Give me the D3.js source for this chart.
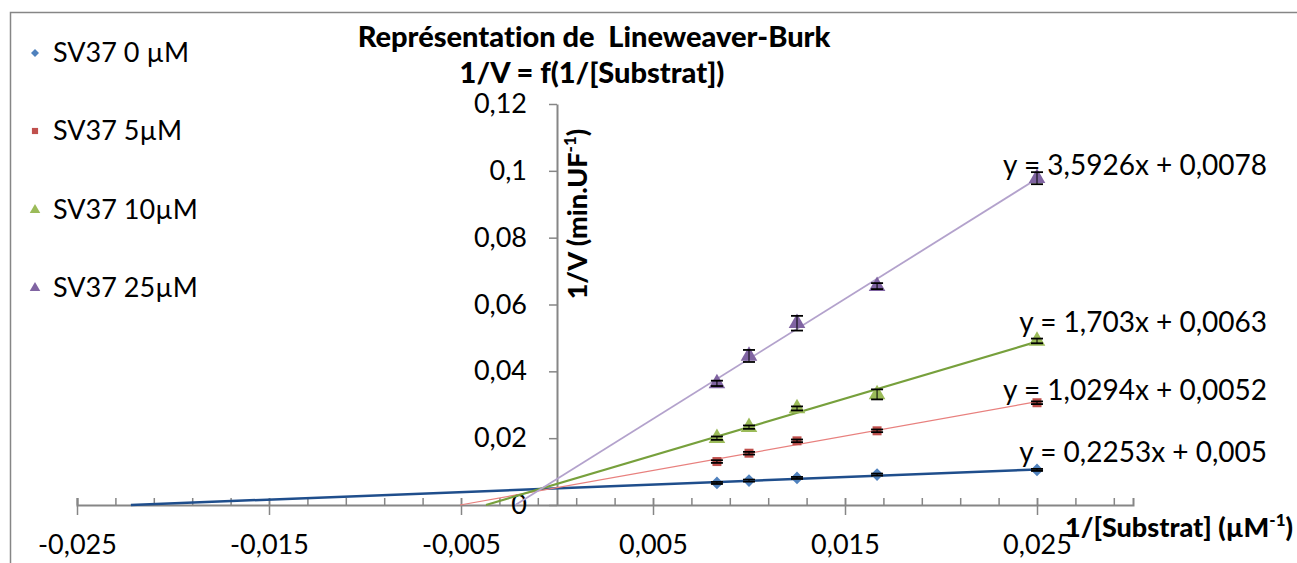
<!DOCTYPE html>
<html><head><meta charset="utf-8">
<script src="https://cdn.jsdelivr.net/npm/d3@7"></script>
<style>
body{margin:0;background:#fff;}
svg{display:block;font-family:Lato,"Open Sans",sans-serif;font-variant-ligatures:none;font-feature-settings:"liga" 0;}
</style></head>
<body><svg id="c" width="1297" height="563"></svg>
<script>
// ---- data ----
const seriesNames = ["SV37 0 µM", "SV37 5µM", "SV37 10µM", "SV37 25µM"];
const xValues = [0.00833, 0.01, 0.0125, 0.01667, 0.025];
const ySV0  = [0.0066, 0.0073, 0.0081, 0.0091, 0.0105];
const ySV5  = [0.0130, 0.0155, 0.0192, 0.0222, 0.0306];
const ySV10 = [0.0200, 0.0233, 0.0289, 0.0331, 0.0491];
const ySV25 = [0.0364, 0.0446, 0.0544, 0.0655, 0.0978];
const eSV0  = [0.0003, 0.0003, 0.0003, 0.0003, 0.0003];
const eSV5  = [0.0004, 0.0004, 0.0004, 0.0004, 0.0004];
const eSV10 = [0.0005, 0.0005, 0.0006, 0.0015, 0.0007];
const eSV25 = [0.0008, 0.0018, 0.0022, 0.0009, 0.0018];
const slopes = [0.2253, 1.0294, 1.703, 3.5926];
const intercepts = [0.005, 0.0052, 0.0063, 0.0078];
const equations = ["y = 0,2253x + 0,005", "y = 1,0294x + 0,0052", "y = 1,703x + 0,0063", "y = 3,5926x + 0,0078"];
const xMajorTicks = [-0.025, -0.015, -0.005, 0.005, 0.015, 0.025];
const yTicks = [0, 0.02, 0.04, 0.06, 0.08, 0.1, 0.12];
const titleLines = ["Représentation de  Lineweaver-Burk", "1/V = f(1/[Substrat])"];

// ---- styles ----
const markerColors = ["#4F81BD", "#C0504D", "#9BBB59", "#8064A2"];
const lineColors = ["#1F4E8C", "#E8807E", "#77A03C", "#B3A2CC"];
const lineWidths = [2.5, 1.2, 2.2, 1.8];
const shapes = ["diamond", "square", "triangle", "triangle"];
const eqPos = [[1267, 462], [1267, 400], [1267, 332], [1267, 175]];

const ys = [ySV0, ySV5, ySV10, ySV25];
const es = [eSV0, eSV5, eSV10, eSV25];

const loc = d3.formatLocale({decimal: ",", thousands: " ", grouping: [3], currency: ["", ""], minus: "-"});
const fx = loc.format(".3f");
const fy = loc.format(".2~f");

const svg = d3.select("#c");
const x = d3.scaleLinear().domain([-0.025, 0.03]).range([77, 1133]);
const y = d3.scaleLinear().domain([0, 0.12]).range([505, 104]);
const axisColor = "#868686";

// chart border
svg.append("path").attr("d", "M10.5,600 V12.5 H1400").attr("fill", "none").attr("stroke", axisColor).attr("stroke-width", 1.5);

// title
const title = svg.append("text").attr("text-anchor", "middle").attr("font-weight", "900").attr("font-size", 29).attr("fill", "#000");
title.append("tspan").attr("x", 594).attr("y", 47).attr("xml:space", "preserve").text(titleLines[0]);
title.append("tspan").attr("x", 592).attr("y", 83).text(titleLines[1]);

// x axis
const x0 = x(0);
const minor = d3.range(-0.025, 0.0295, 0.002);
const gxMinor = svg.append("g").attr("transform", `translate(0,${y(0)})`)
  .call(d3.axisTop(x).tickValues(minor).tickSize(7).tickFormat(""));
gxMinor.select(".domain").attr("stroke", axisColor).attr("stroke-width", 2);
gxMinor.selectAll(".tick line").attr("stroke", axisColor).attr("stroke-width", 1.5);

const gx = svg.append("g").attr("transform", `translate(0,${y(0)})`)
  .call(d3.axisBottom(x).tickValues(xMajorTicks).tickSize(10).tickSizeOuter(0).tickPadding(20).tickFormat(fx));
gx.select(".domain").remove();
gx.selectAll(".tick line").attr("y1", -7).attr("stroke", axisColor).attr("stroke-width", 1.5);
gx.selectAll(".tick text").attr("font-size", 27).attr("font-family", "Lato").attr("fill", "#000");

// y axis
const gy = svg.append("g").attr("transform", `translate(${x0},0)`)
  .call(d3.axisLeft(y).tickValues(yTicks).tickSize(8).tickSizeOuter(0).tickPadding(22).tickFormat(fy));
gy.select(".domain").attr("stroke", axisColor).attr("stroke-width", 2);
gy.selectAll(".tick line").attr("stroke", axisColor).attr("stroke-width", 1.5);
gy.selectAll(".tick text").attr("font-size", 27).attr("font-family", "Lato").attr("fill", "#000");

// axis titles
const yt = svg.append("text").attr("transform", `translate(587,214) rotate(-90)`).attr("text-anchor", "middle")
  .attr("font-weight", "900").attr("font-size", 27).attr("fill", "#000");
yt.append("tspan").text("1/V (min.UF");
yt.append("tspan").attr("font-size", 17).attr("dy", -11).text("-1");
yt.append("tspan").attr("dy", 11).text(")");

const xt = svg.append("text").attr("x", 1065).attr("y", 537).attr("font-weight", "900").attr("font-size", 27).attr("fill", "#000");
xt.append("tspan").text("1/[Substrat] (µM");
xt.append("tspan").attr("font-size", 17).attr("dy", -11).text("-1");
xt.append("tspan").attr("dy", 11).text(")");

function symPath(shape, big) {
  if (shape === "diamond") return d3.symbol(d3.symbolSquare, big ? 80 : 32)();
  if (shape === "square") return d3.symbol(d3.symbolSquare, big ? 81 : 38)();
  return d3.symbol(d3.symbolTriangle, big ? 120 : 48)();
}

// trendlines
const xMax = d3.max(xValues);
slopes.forEach((m, i) => {
  const b = intercepts[i];
  const xStart = -b / m;
  svg.append("line")
    .attr("x1", x(xStart)).attr("y1", y(0))
    .attr("x2", x(xMax)).attr("y2", y(m * xMax + b))
    .attr("stroke", lineColors[i]).attr("stroke-width", lineWidths[i]);
});

// markers + error bars
ys.forEach((vals, i) => {
  const g = svg.append("g");
  vals.forEach((v, j) => {
    const cx = x(xValues[j]), cy = y(v);
    const rot = shapes[i] === "diamond" ? " rotate(45)" : "";
    g.append("path").attr("d", symPath(shapes[i], true))
      .attr("transform", `translate(${cx},${cy})${rot}`).attr("fill", markerColors[i]);
  });
  vals.forEach((v, j) => {
    const cx = x(xValues[j]);
    const yt1 = y(v + es[i][j]), yb1 = y(v - es[i][j]);
    g.append("line").attr("x1", cx).attr("x2", cx).attr("y1", yt1).attr("y2", yb1).attr("stroke", "#000").attr("stroke-width", 1);
    [yt1, yb1].forEach(yy => g.append("line").attr("x1", cx - 6).attr("x2", cx + 6).attr("y1", yy).attr("y2", yy)
      .attr("stroke", "#000").attr("stroke-width", 1.8));
  });
});

// equations
equations.forEach((t, i) => {
  svg.append("text").attr("x", eqPos[i][0]).attr("y", eqPos[i][1]).attr("text-anchor", "end")
    .attr("font-size", 28).attr("fill", "#000").text(t);
});

// legend
const legendY = [53, 131, 210, 288];
seriesNames.forEach((n, i) => {
  const rot = shapes[i] === "diamond" ? " rotate(45)" : "";
  svg.append("path").attr("d", symPath(shapes[i], false))
    .attr("transform", `translate(35,${legendY[i]})${rot}`).attr("fill", markerColors[i]);
  svg.append("text").attr("x", 53).attr("y", legendY[i]).attr("dy", "0.35em")
    .attr("font-size", 27).attr("fill", "#000").text(n);
});
</script></body></html>
